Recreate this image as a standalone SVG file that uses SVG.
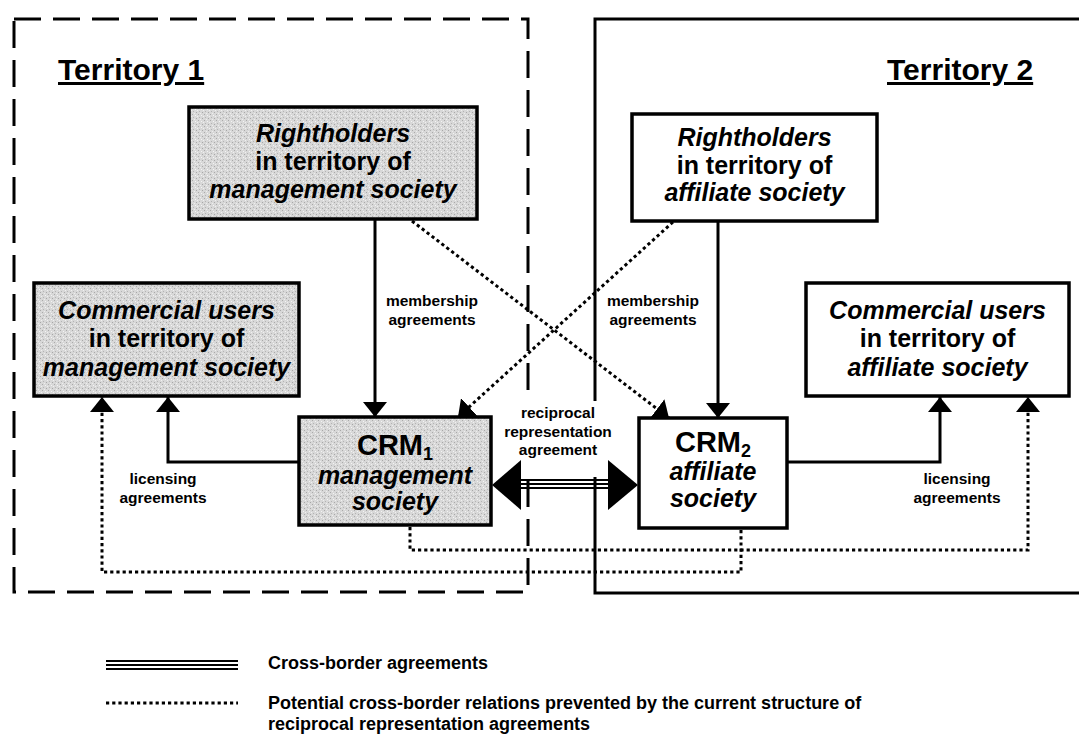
<svg xmlns="http://www.w3.org/2000/svg" width="1079" height="745" viewBox="0 0 1079 745">
<defs>
<pattern id="tex" width="6" height="6" patternUnits="userSpaceOnUse">
<rect width="6" height="6" fill="#d8d8d8"/>
<rect x="0" y="0" width="1" height="1" fill="#aaaaaa"/>
<rect x="3" y="1" width="1" height="1" fill="#f4f4f4"/>
<rect x="1" y="3" width="1" height="1" fill="#b4b4b4"/>
<rect x="4" y="4" width="1" height="1" fill="#a8a8a8"/>
<rect x="5" y="2" width="1" height="1" fill="#f0f0f0"/>
<rect x="2" y="5" width="1" height="1" fill="#eeeeee"/>
</pattern>
<marker id="ah" markerUnits="userSpaceOnUse" markerWidth="15" markerHeight="24" viewBox="0 0 15 24" refX="15" refY="12" orient="auto">
<path d="M0,0 L15,12 L0,24 Z" fill="#000"/>
</marker>
<style>
.tdash{fill:none;stroke:#000;stroke-width:3;stroke-dasharray:27 12}
.tsol{fill:none;stroke:#000;stroke-width:3}
.box{stroke:#000;stroke-width:3.5}
.gray{fill:url(#tex)}
.white{fill:#fff}
.conn{fill:none;stroke:#000;stroke-width:3}
.dot{fill:none;stroke:#000;stroke-width:3;stroke-dasharray:3.2 3}
.tri{fill:none;stroke:#000;stroke-width:1.8}
text{font-family:"Liberation Sans",Arial,Helvetica,sans-serif;font-weight:bold;fill:#000}
.t{font-size:25px;text-anchor:middle}
.i{font-style:italic}
.crm{font-size:29px;text-anchor:middle}
.lbl{font-size:15.5px;text-anchor:middle}
.ter{font-size:30px;text-decoration:underline}
.leg{font-size:18px}
</style>
</defs>

<g id="territory1">
<rect class="tdash" x="14" y="19" width="514" height="573"/>
<text class="ter" x="58" y="80">Territory 1</text>
</g>
<g id="territory2">
<rect class="tsol" x="595" y="19" width="520" height="574"/>
<text class="ter" x="887" y="80">Territory 2</text>
</g>

<rect x="508" y="401" width="104" height="76" fill="#fff"/>

<g id="connectors">
<path class="conn" d="M375,219 V417" marker-end="url(#ah)"/>
<path class="conn" d="M718,221 V418" marker-end="url(#ah)"/>
<path class="conn" d="M299,462 H168 V397" marker-end="url(#ah)"/>
<path class="conn" d="M787,462 H940 V397" marker-end="url(#ah)"/>
<path class="dot" d="M412,221 L669,418" marker-end="url(#ah)"/>
<path class="dot" d="M673,222 L458,417" marker-end="url(#ah)"/>
<path class="dot" d="M410,527 V550 H1028 V397" marker-end="url(#ah)"/>
<path class="dot" d="M741,530 V572 H102 V397" marker-end="url(#ah)"/>
<g id="reciprocal">
<line class="tri" x1="518" y1="480" x2="612" y2="480"/>
<line class="tri" x1="518" y1="484" x2="612" y2="484"/>
<line class="tri" x1="518" y1="488" x2="612" y2="488"/>
<polygon points="492,485 521,460 521,510" fill="#000"/>
<polygon points="638,485 608,460 608,510" fill="#000"/>
</g>
<text class="lbl" x="432" y="306">membership</text>
<text class="lbl" x="432" y="325">agreements</text>
<text class="lbl" x="653" y="306">membership</text>
<text class="lbl" x="653" y="325">agreements</text>
<text class="lbl" x="163" y="484">licensing</text>
<text class="lbl" x="163" y="503">agreements</text>
<text class="lbl" x="957" y="484">licensing</text>
<text class="lbl" x="957" y="503">agreements</text>
<text class="lbl" x="558" y="418">reciprocal</text>
<text class="lbl" x="558" y="437">representation</text>
<text class="lbl" x="558" y="455">agreement</text>
</g>

<g id="rightholders1">
<rect class="box gray" x="189" y="107" width="288" height="112"/>
<text class="t i" x="333" y="142">Rightholders</text>
<text class="t" x="333" y="170">in territory of</text>
<text class="t i" x="333" y="198">management society</text>
</g>
<g id="rightholders2">
<rect class="box white" x="632" y="114" width="245" height="107"/>
<text class="t i" x="754.5" y="146">Rightholders</text>
<text class="t" x="754.5" y="174">in territory of</text>
<text class="t i" x="754.5" y="201">affiliate society</text>
</g>
<g id="users1">
<rect class="box gray" x="34" y="283" width="265" height="113"/>
<text class="t i" x="166.5" y="319">Commercial users</text>
<text class="t" x="166.5" y="347">in territory of</text>
<text class="t i" x="166.5" y="376">management society</text>
</g>
<g id="users2">
<rect class="box white" x="806" y="283" width="263" height="113"/>
<text class="t i" x="937.5" y="319">Commercial users</text>
<text class="t" x="937.5" y="347">in territory of</text>
<text class="t i" x="937.5" y="376">affiliate society</text>
</g>
<g id="crm1">
<rect class="box gray" x="299" y="417" width="192" height="108"/>
<text class="crm" x="395" y="455">CRM<tspan font-size="18" dy="5">1</tspan></text>
<text class="t i" x="395" y="484">management</text>
<text class="t i" x="395" y="510">society</text>
</g>
<g id="crm2">
<rect class="box white" x="639" y="418" width="148" height="110"/>
<text class="crm" x="713" y="452">CRM<tspan font-size="18" dy="5">2</tspan></text>
<text class="t i" x="713" y="480">affiliate</text>
<text class="t i" x="713" y="507">society</text>
</g>

<g id="legend">
<line class="tri" x1="106" y1="661" x2="238" y2="661"/>
<line class="tri" x1="106" y1="665" x2="238" y2="665"/>
<line class="tri" x1="106" y1="669" x2="238" y2="669"/>
<text class="leg" x="268" y="669">Cross-border agreements</text>
<line class="dot" x1="106" y1="703" x2="238" y2="703"/>
<text class="leg" x="268" y="709">Potential cross-border relations prevented by the current structure of</text>
<text class="leg" x="268" y="730">reciprocal representation agreements</text>
</g>
</svg>
